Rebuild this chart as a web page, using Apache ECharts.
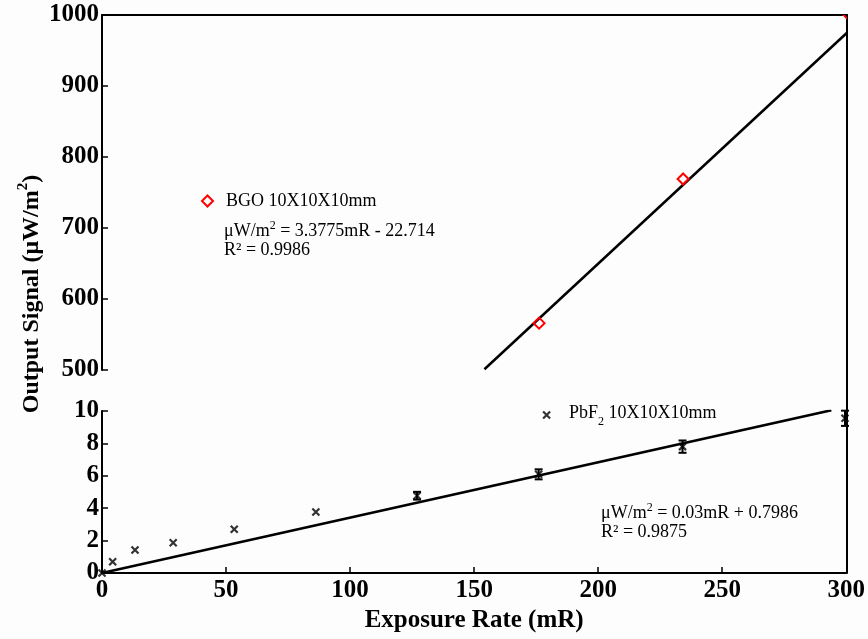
<!DOCTYPE html>
<html>
<head>
<meta charset="utf-8">
<script src="https://cdn.jsdelivr.net/npm/echarts@6.0.0/dist/echarts.min.js"></script>
<style>
  html, body { margin: 0; padding: 0; background: #fdfdfd; }
  #chart { width: 868px; height: 639px; }
</style>
</head>
<body>
<div id="chart"></div>
<script>
const FONT = "'Liberation Serif', 'Times New Roman', serif";

// BGO crystal, upper panel (µW/m²); the last point sits just past the top edge
const bgoPoints = [[176, 566], [234, 769], [300, 1003]];
const bgoFit = [[154, 501], [300, 975]];

// PbF2 crystal, lower panel (µW/m²) with error bars
const pbfPoints = [[0, 0], [4.3, 0.7], [13.3, 1.42], [28.7, 1.87], [53.3, 2.7], [86.2, 3.77],
  [127, 4.77], [176, 6.09], [234, 7.8], [299.5, 9.55]];
const pbfErrors = [[127, 4.77, 0.24], [176, 6.09, 0.31], [234, 7.8, 0.38], [299.5, 9.55, 0.47]];
const pbfFit = [[0, 0], [294, 10.05]];

const xTicks = [0, 50, 100, 150, 200, 250, 300];
const topTicks = [500, 600, 700, 800, 900, 1000];
const bottomTicks = [0, 2, 4, 6, 8, 10];

const chart = echarts.init(document.getElementById("chart"));

const axisLineStyle = { show: true, lineStyle: { color: "#000", width: 2 } };
const tickLabel = {
  color: "#000", fontFamily: FONT, fontWeight: "bold", fontSize: 25,
  formatter: (v) => String(v)
};
const tickStyle = { inside: true, length: 6, lineStyle: { color: "#000", width: 1.5 } };

const bgoName = "BGO 10X10X10mm";
const pbfName = "PbF2 10X10X10mm";
const red = "#ff0000";

chart.setOption({
  animation: false,
  backgroundColor: "#fdfdfd",
  grid: [
    { left: 102, top: 15, width: 745, height: 355 },
    { left: 102, top: 411, width: 745, height: 162 },
    { left: 102, top: 15, width: 745, height: 558 }
  ],
  xAxis: [
    {
      gridIndex: 0, type: "value", min: 0, max: 300, position: "top",
      axisLine: axisLineStyle, axisTick: { show: false }, axisLabel: { show: false },
      splitLine: { show: false }
    },
    {
      gridIndex: 1, type: "value", min: xTicks[0], max: xTicks[xTicks.length - 1], interval: 50,
      axisLine: axisLineStyle, axisTick: tickStyle,
      axisLabel: { ...tickLabel, margin: 5 },
      splitLine: { show: false },
      name: "Exposure Rate (mR)", nameLocation: "middle", nameGap: 35,
      nameTextStyle: { color: "#000", fontFamily: FONT, fontWeight: "bold", fontSize: 25 }
    },
    { gridIndex: 2, type: "value", min: 0, max: 1, show: false }
  ],
  yAxis: [
    {
      gridIndex: 0, type: "value", min: topTicks[0], max: topTicks[topTicks.length - 1], interval: 100,
      axisLine: axisLineStyle, axisTick: tickStyle,
      axisLabel: { ...tickLabel, margin: 3 },
      splitLine: { show: false }
    },
    {
      gridIndex: 1, type: "value", min: bottomTicks[0], max: bottomTicks[bottomTicks.length - 1], interval: 2,
      axisLine: axisLineStyle, axisTick: tickStyle,
      axisLabel: { ...tickLabel, margin: 3 },
      splitLine: { show: false }
    },
    {
      gridIndex: 2, type: "value", min: 0, max: 1, position: "left",
      axisLine: { show: false }, axisTick: { show: false }, axisLabel: { show: false },
      splitLine: { show: false },
      name: "{t|Output Signal (\u03bcW/m}{s|2}{t|)}", nameLocation: "middle", nameGap: 58,
      nameTextStyle: {
        color: "#000", fontFamily: FONT, fontWeight: "bold", fontSize: 24,
        rich: {
          t: { fontFamily: FONT, fontWeight: "bold", fontSize: 24, lineHeight: 28, verticalAlign: "bottom" },
          s: { fontFamily: FONT, fontWeight: "bold", fontSize: 15, lineHeight: 28, verticalAlign: "top", padding: [0, 0, 12, 0] }
        }
      }
    },
    {
      gridIndex: 2, type: "value", min: 0, max: 1, position: "right",
      axisLine: axisLineStyle, axisTick: { show: false }, axisLabel: { show: false },
      splitLine: { show: false }
    }
  ],
  legend: [
    {
      data: [{ name: bgoName, icon: "diamond", itemStyle: { color: "transparent", borderColor: red, borderWidth: 2 } }],
      left: 196, top: 187, itemWidth: 11, itemHeight: 11, itemGap: 10,
      textStyle: { color: "#000", fontFamily: FONT, fontSize: 18, padding: [0, 0, 0, 8] }
    },
    {
      data: [{ name: pbfName, itemStyle: { color: "transparent", borderColor: "#000", borderWidth: 2.2 } }],
      left: 537, top: 399, itemWidth: 7, itemHeight: 7,
      formatter: () => "{a|PbF}{s|2}{a| 10X10X10mm}",
      textStyle: {
        color: "#000", fontFamily: FONT, fontSize: 18, padding: [0, 0, 0, 14],
        rich: {
          a: { fontFamily: FONT, fontSize: 18, lineHeight: 22, verticalAlign: "top", color: "#000" },
          s: { fontFamily: FONT, fontSize: 12, lineHeight: 22, verticalAlign: "bottom", color: "#000", padding: [0, 0, -2, 0] }
        }
      }
    }
  ],
  graphic: [
    eqText(224, 230, "\u03bcW/m", " = 3.3775mR - 22.714"),
    plainText(224, 250, "R\u00b2 = 0.9986"),
    eqText(601, 512, "\u03bcW/m", " = 0.03mR + 0.7986"),
    plainText(601, 532, "R\u00b2 = 0.9875")
  ],
  series: [
    {
      // hollow diamonds, clipped to the panel so the last one is cut by the frame
      name: bgoName, type: "custom", xAxisIndex: 0, yAxisIndex: 0, z: 5, clip: true,
      renderItem: (params, api) => {
        const c = api.coord([api.value(0), api.value(1)]);
        const r = 5.5;
        return {
          type: "polygon",
          shape: { points: [[c[0], c[1] - r], [c[0] + r, c[1]], [c[0], c[1] + r], [c[0] - r, c[1]]] },
          style: { fill: "none", stroke: red, lineWidth: 2 }
        };
      },
      data: bgoPoints
    },
    {
      name: "BGO fit", type: "line", xAxisIndex: 0, yAxisIndex: 0, showSymbol: false,
      lineStyle: { color: "#000", width: 2.5 }, data: bgoFit
    },
    {
      name: pbfName, type: "scatter", xAxisIndex: 1, yAxisIndex: 1, z: 5,
      symbol: "path://M0,0L10,10M10,0L0,10", symbolSize: 7,
      itemStyle: { color: "transparent", borderColor: "#000", borderWidth: 2.2 },
      data: pbfPoints
    },
    {
      name: "PbF2 error", type: "custom", xAxisIndex: 1, yAxisIndex: 1, z: 4,
      renderItem: (params, api) => {
        const x = api.value(0), y = api.value(1), e = api.value(2);
        const hi = api.coord([x, y + e]);
        const lo = api.coord([x, y - e]);
        const w = 4;
        const style = { stroke: "#000", lineWidth: 2 };
        return {
          type: "group",
          children: [
            { type: "line", shape: { x1: hi[0], y1: hi[1], x2: lo[0], y2: lo[1] }, style },
            { type: "line", shape: { x1: hi[0] - w, y1: hi[1], x2: hi[0] + w, y2: hi[1] }, style },
            { type: "line", shape: { x1: lo[0] - w, y1: lo[1], x2: lo[0] + w, y2: lo[1] }, style }
          ]
        };
      },
      data: pbfErrors
    },
    {
      name: "PbF2 fit", type: "line", xAxisIndex: 1, yAxisIndex: 1, showSymbol: false,
      lineStyle: { color: "#000", width: 2.5 }, data: pbfFit
    }
  ]
});

function eqText(x, y, lead, rest) {
  return {
    type: "text", x, y,
    style: {
      text: "{a|" + lead + "}{s|2}{a|" + rest + "}",
      fill: "#000", textVerticalAlign: "middle",
      rich: {
        a: { fontFamily: FONT, fontSize: 18, lineHeight: 20, verticalAlign: "bottom", fill: "#000" },
        s: { fontFamily: FONT, fontSize: 12, lineHeight: 20, verticalAlign: "top", fill: "#000", padding: [0, 0, 8, 0] }
      }
    }
  };
}

function plainText(x, y, text) {
  return {
    type: "text", x, y,
    style: { text, fill: "#000", font: "18px " + FONT, textVerticalAlign: "middle" }
  };
}
</script>
</body>
</html>
